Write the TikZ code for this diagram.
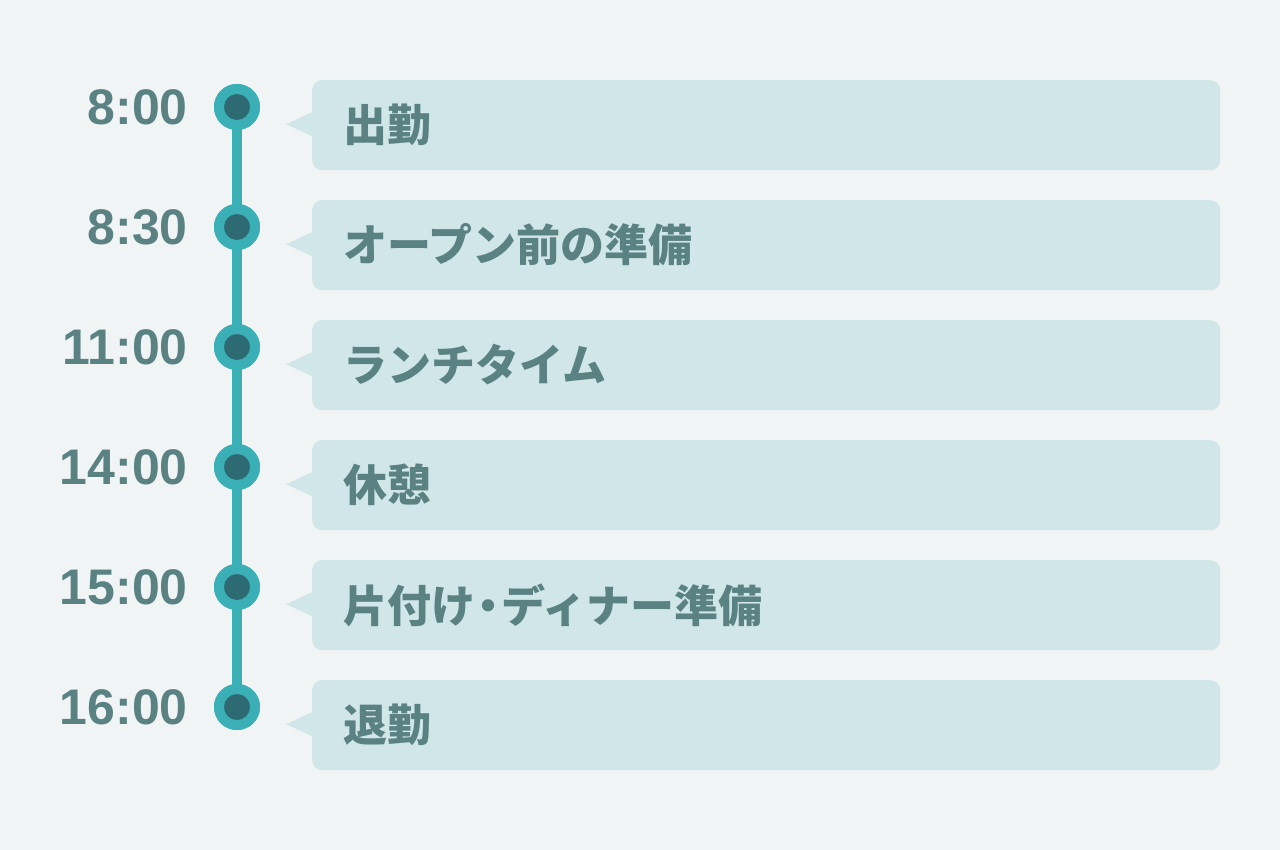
\documentclass[tikz,border=0pt]{standalone}
\usepackage{fontspec}
\setmainfont{Liberation Sans}
\newfontfamily\jpfont{Noto Sans CJK JP}
\definecolor{bg}{HTML}{F0F4F5}
\definecolor{bubble}{HTML}{D0E6E8}
\definecolor{txt}{HTML}{5A8282}
\definecolor{ring}{HTML}{3AAFB5}
\definecolor{core}{HTML}{2D6A72}
\newcommand{\middot}{\kern-9pt・\kern-9pt}
\tikzset{
  timelbl/.style={anchor=east, inner sep=0pt, font=\fontsize{50}{54}\selectfont\bfseries, text=txt},
  dotouter/.style={circle, fill=ring, minimum size=46pt, inner sep=0pt},
  dotinner/.style={circle, fill=core, minimum size=26pt, inner sep=0pt},
  bubblebox/.style={rectangle, rounded corners=10pt, fill=bubble, minimum width=908pt, minimum height=90pt, inner sep=0pt, anchor=north west},
  bubbletext/.style={anchor=west, inner sep=0pt, font=\jpfont\fontsize{44}{48}\selectfont\bfseries, text=txt},
  spine/.style={draw=ring, line width=10pt}
}
\begin{document}
\begin{tikzpicture}[x=1pt,y=-1pt]
\fill[bg] (0,0) rectangle (1280,850);
\foreach \t/\l [count=\i from 0] in {8:00/出勤, 8:30/オープン前の準備, 11:00/ランチタイム, 14:00/休憩, 15:00/片付け\middot ディナー準備, 16:00/退勤}{
  \pgfmathsetmacro{\yc}{107+120*\i}
  \node[dotouter] (dot\i) at (237,\yc) {};
  \node[bubblebox] (box\i) at (312,\yc-27) {};
  \fill[bubble] (box\i.west) ++(0,-13) -- ++(-26,12) -- ++(26,12) -- cycle;
  \node[bubbletext] (lbl\i) at (343,\yc+18) {\l};
  \node[timelbl] (time\i) at (188,\yc) {\t};
}
\draw[spine] (dot0.center) -- (dot5.center);
\foreach \i in {0,...,5}{
  \node[dotouter] (ring\i) at (dot\i.center) {};
  \node[dotinner] (core\i) at (dot\i.center) {};
}
\end{tikzpicture}
\end{document}
